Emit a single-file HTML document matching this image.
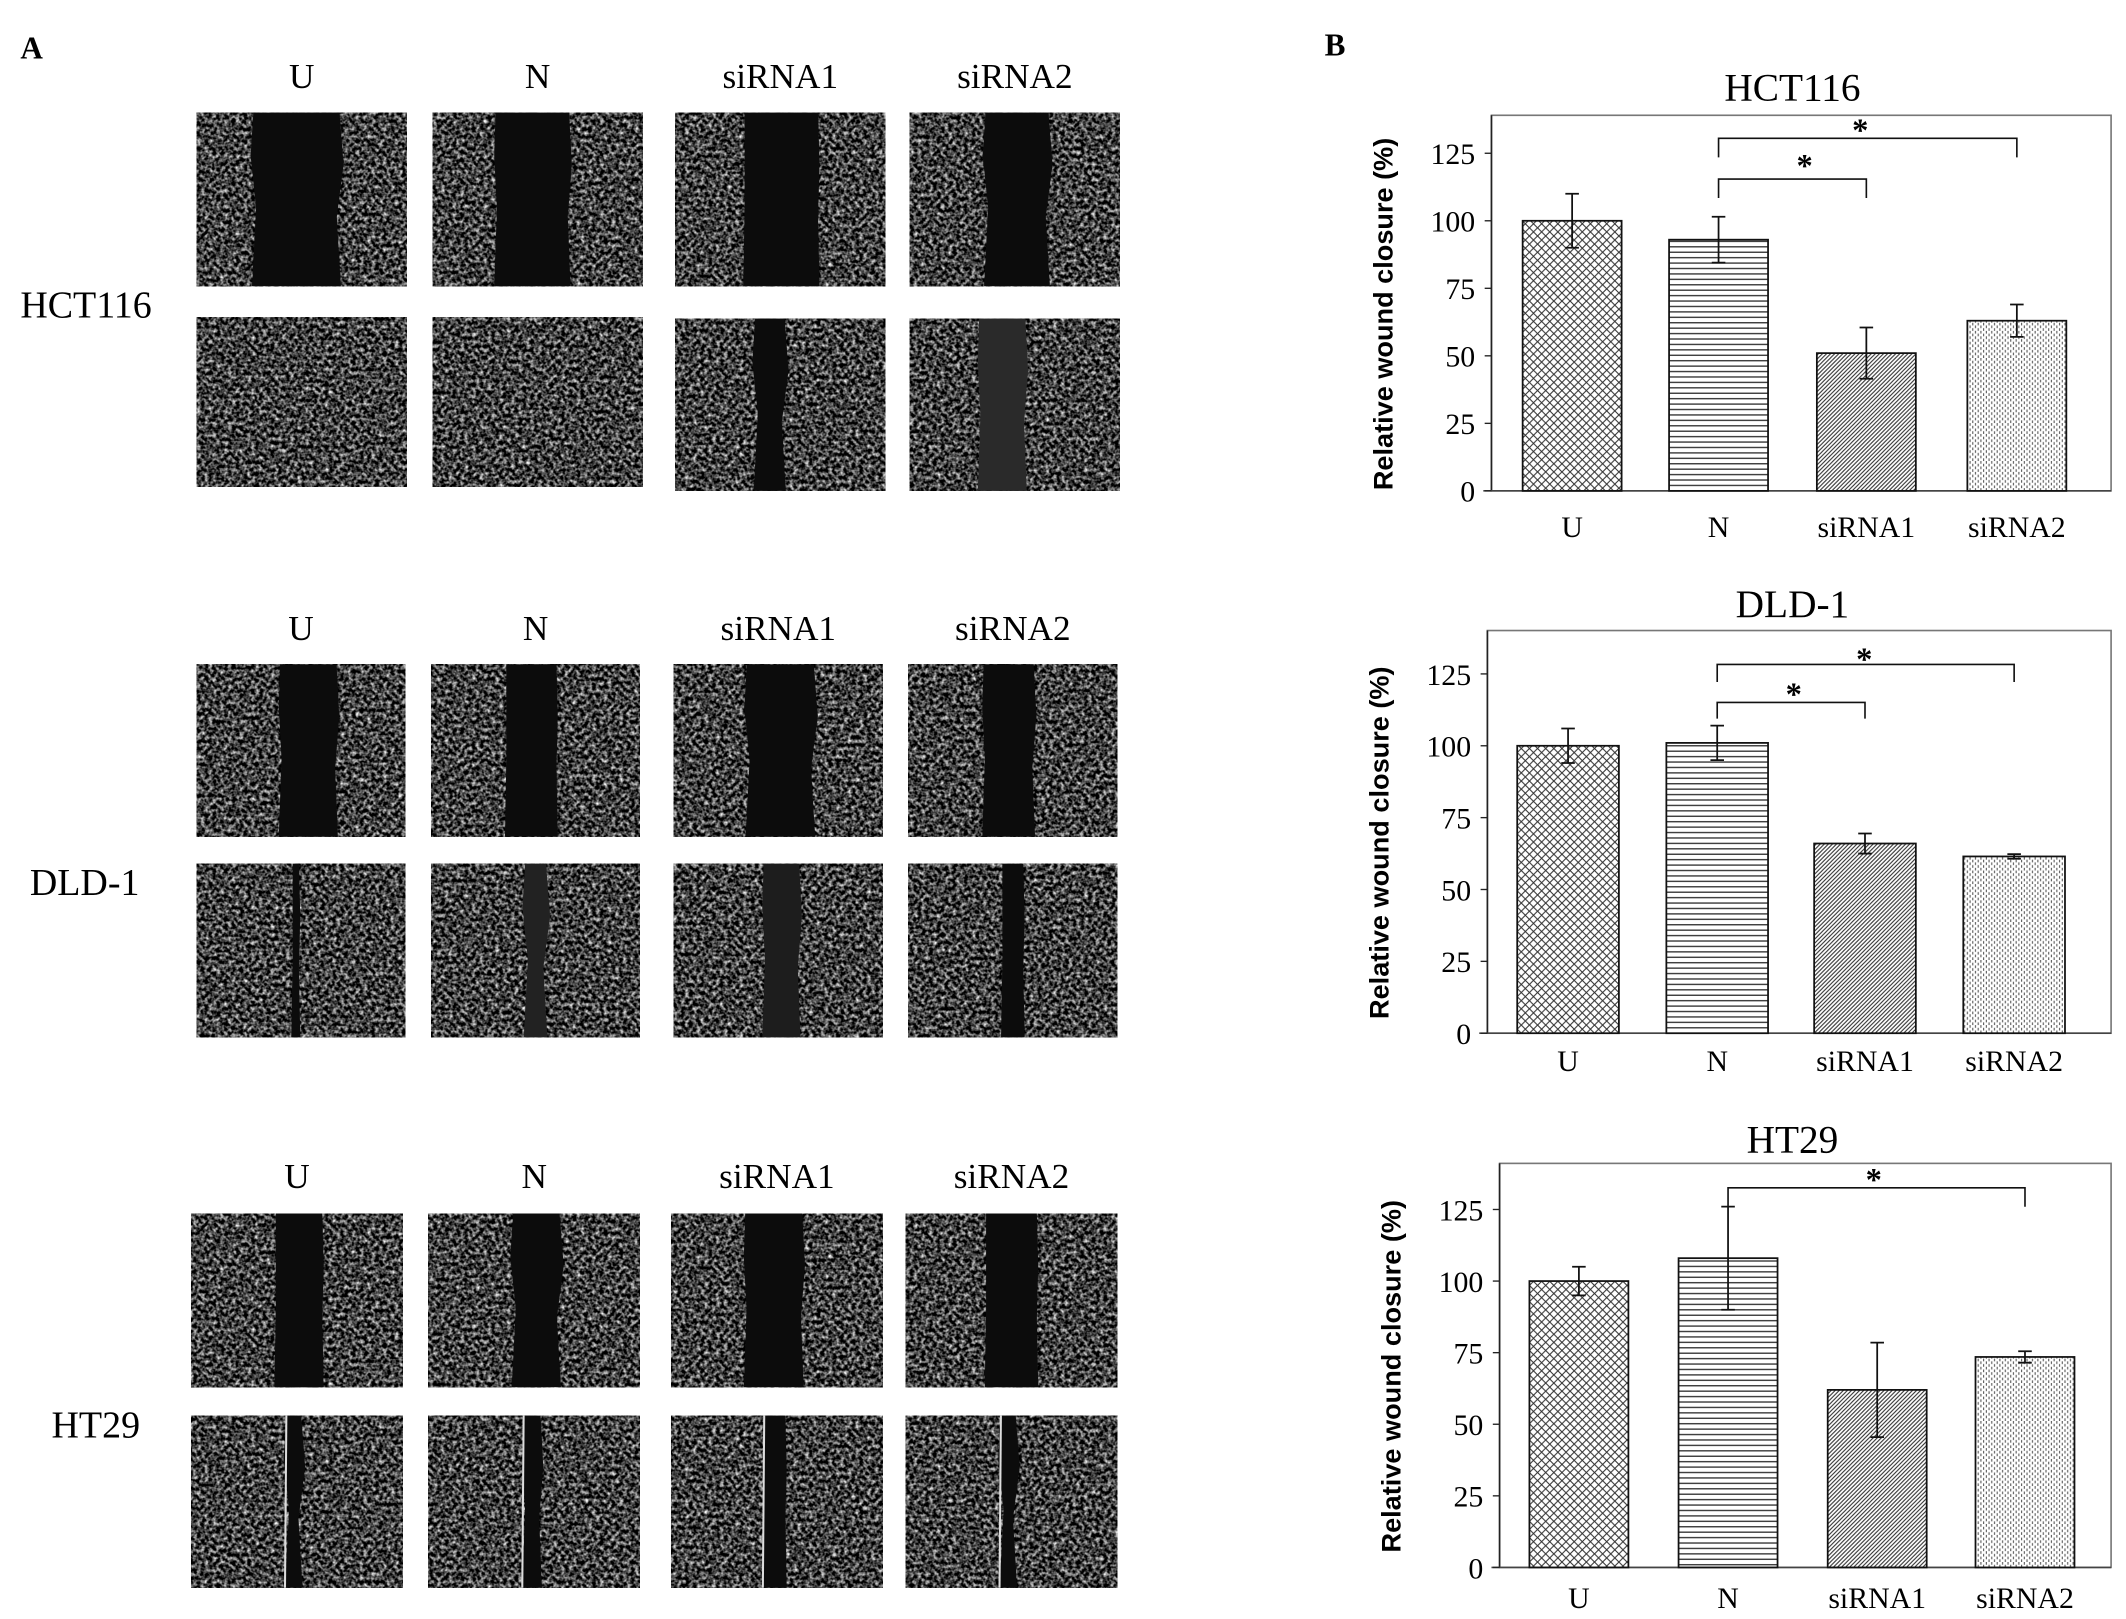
<!DOCTYPE html>
<html><head><meta charset="utf-8">
<style>
html,body{margin:0;padding:0;background:#fff;}
svg{display:block;}
text{font-family:"Liberation Serif",serif;fill:#000;}
.ylab{font-family:"Liberation Sans",sans-serif;font-weight:bold;}
</style></head>
<body>
<svg id="fig" width="2126" height="1619" viewBox="0 0 1568 1194" xmlns="http://www.w3.org/2000/svg">
<defs>
<filter id="tex" x="0" y="0" width="100%" height="100%" color-interpolation-filters="sRGB">
<feTurbulence type="fractalNoise" baseFrequency="0.35" numOctaves="2" seed="7" result="n"/>
<feColorMatrix in="n" type="matrix" values="1.9 0 0 0 -0.7  1.9 0 0 0 -0.7  1.9 0 0 0 -0.7  0 0 0 0 1"/>
</filter>
<pattern id="p-cross" width="6" height="6" patternUnits="userSpaceOnUse">
<rect width="6" height="6" fill="#fff"/>
<path d="M0,0L6,6M6,0L0,6" stroke="#333" stroke-width="0.8"/>
</pattern>
<pattern id="p-horiz" width="4" height="4" patternUnits="userSpaceOnUse">
<rect width="4" height="4" fill="#fff"/>
<path d="M0,2H4" stroke="#333" stroke-width="1"/>
</pattern>
<pattern id="p-diag" width="3" height="3" patternUnits="userSpaceOnUse">
<rect width="3" height="3" fill="#fff"/>
<path d="M0,3L3,0M-1,1L1,-1M2,4L4,2" stroke="#333" stroke-width="0.8"/>
</pattern>
<pattern id="p-dots" width="4" height="4" patternUnits="userSpaceOnUse">
<rect width="4" height="4" fill="#fff"/>
<path d="M1,0V2M3,2V4" stroke="#555" stroke-width="0.8"/>
</pattern>
</defs>
<text x="15" y="43" font-size="23" font-weight="bold">A</text>
<text x="977" y="41" font-size="23" font-weight="bold">B</text>
<g id="panelA"></g>
<g id="panelB"></g>
</svg>
<script>
// ---- Chart data ----
const categories = ["U", "N", "siRNA1", "siRNA2"];
const cellLines = ["HCT116", "DLD-1", "HT29"];
const hct116Values = [100, 93, 51, 63];
const hct116Errors = [10, 8.5, 9.5, 6];
const dld1Values = [100, 101, 66, 61.5];
const dld1Errors = [6, 6, 3.5, 0.8];
const ht29Values = [100, 108, 62, 73.5];
const ht29Errors = [5, 18, 16.5, 2];
const yTicks = [0, 25, 50, 75, 100, 125];
const yMax = 140;

const NS = "http://www.w3.org/2000/svg";
function el(tag, attrs, parent){
  const e = document.createElementNS(NS, tag);
  for (const k in attrs) e.setAttribute(k, attrs[k]);
  if (parent) parent.appendChild(e);
  return e;
}

// ---- Panel A: wound images ----
const A = document.getElementById("panelA");
const blocks = [
  {label:"HCT116", lx:15, ly:234, hy:65, cols:[145,319,498,671], w:155,
   rows:[{y:83,h:128,wounds:[[0.27,0.68],[0.3,0.65],[0.33,0.68],[0.36,0.66]]},
         {y:234,h:125,wounds:[null,null,[0.38,0.52],[0.33,0.55,"#2a2a2a"]], yAlt:[234,234,235,235], hAlt:[125,125,127,127]}]},
  {label:"DLD-1", lx:22, ly:660, hy:472, cols:[145,318,497,670], w:154,
   rows:[{y:490,h:127,wounds:[[0.4,0.67],[0.36,0.6],[0.35,0.67],[0.36,0.6]]},
         {y:637,h:128,wounds:[[0.46,0.49],[0.45,0.55,"#222"],[0.43,0.6,"#1d1d1d"],[0.45,0.55]]}]},
  {label:"HT29", lx:38, ly:1060, hy:876, cols:[141,316,495,668], w:156,
   rows:[{y:895,h:128,wounds:[[0.4,0.62],[0.4,0.62],[0.35,0.62],[0.38,0.62]]},
         {y:1044,h:127,wounds:[[0.45,0.52],[0.45,0.53],[0.44,0.54],[0.45,0.52]]}]}
];
blocks.forEach((b, bi) => {
  const lab = el("text", {x:b.lx, y:b.ly, "font-size":"28"}, A);
  lab.textContent = b.label;
  
  
  categories.forEach((c, ci) => {
    const t = el("text", {x:b.cols[ci] + b.w/2, y:b.hy, "font-size":"26", "text-anchor":"middle"}, A);
    t.textContent = c;
    
    
  });
  b.rows.forEach((r, ri) => {
    b.cols.forEach((x, ci) => {
      const y = r.yAlt ? r.yAlt[ci] : r.y;
      const h = r.hAlt ? r.hAlt[ci] : r.h;
      const g = el("g", {}, A);
      
      
      el("rect", {x:x, y:y, width:b.w, height:h, fill:"#333"}, g);
      el("rect", {x:x, y:y, width:b.w, height:h, filter:"url(#tex)"}, g);
      const wd = r.wounds[ci];
      if (wd) {
        const x1 = x + wd[0]*b.w, x2 = x + wd[1]*b.w;
        const j = (bi+ci+ri)%3;
        const d = `M${x1},${y} L${x2},${y} L${x2+3-j},${y+h*0.3} L${x2-2+j},${y+h*0.6} L${x2+1},${y+h} L${x1-1},${y+h} L${x1+2-j},${y+h*0.55} L${x1-2+j},${y+h*0.25} Z`;
        el("path", {d:d, fill:wd[2]||"#0c0c0c"}, g);
        if (ri===1 && bi===2) {
          el("path", {d:`M${x1},${y} L${x1-1},${y+h}`, stroke:"#ddd", "stroke-width":"1.5", fill:"none"}, g);
        }
      }
    });
  });
});

// ---- Panel B: bar charts ----
const B = document.getElementById("panelB");
const charts = [
  {title:"HCT116", values:hct116Values, errors:hct116Errors, x0:1100, x1:1557, top:85, y0:362, yTop125:113, titleY:74, xLabY:396, ylabX:1027,
   barX:[1123,1231,1340,1451], bw:73,
   brackets:[{from:1,to:2,y:132,drop:14,sx:1331,sy:130},{from:1,to:3,y:102,drop:14,sx:1372,sy:104}]},
  {title:"DLD-1", values:dld1Values, errors:dld1Errors, x0:1097, x1:1557, top:465, y0:762, yTop125:497, titleY:455, xLabY:790, ylabX:1024,
   barX:[1119,1229,1338,1448], bw:75,
   brackets:[{from:1,to:2,y:518,drop:12,sx:1323,sy:520},{from:1,to:3,y:490,drop:13,sx:1375,sy:494}]},
  {title:"HT29", values:ht29Values, errors:ht29Errors, x0:1106, x1:1557, top:858, y0:1156, yTop125:892, titleY:850, xLabY:1186, ylabX:1033,
   barX:[1128,1238,1348,1457], bw:73,
   brackets:[{from:1,to:3,y:876,drop:14,sx:1382,sy:878}]}
];
const fills = ["url(#p-cross)","url(#p-horiz)","url(#p-diag)","url(#p-dots)"];
charts.forEach((ch) => {
  const yScale = v => ch.y0 - v * (ch.y0 - ch.yTop125) / 125;
  const g = el("g", {}, B);
  
  
  const tt = el("text", {x:1322, y:ch.titleY, "font-size":"29", "text-anchor":"middle"}, g);
  tt.textContent = ch.title;
  
  
  el("rect", {x:ch.x0, y:ch.top, width:ch.x1-ch.x0, height:ch.y0-ch.top, fill:"none", stroke:"#777", "stroke-width":"1.2"}, g);
  el("line", {x1:ch.x0, y1:ch.top, x2:ch.x0, y2:ch.y0, stroke:"#222", "stroke-width":"1.2"}, g);
  el("line", {x1:ch.x0-6, y1:ch.y0, x2:ch.x1, y2:ch.y0, stroke:"#444", "stroke-width":"1.2"}, g);
  yTicks.forEach(v => {
    const y = yScale(v);
    el("line", {x1:ch.x0-5, y1:y, x2:ch.x0, y2:y, stroke:"#222", "stroke-width":"1"}, g);
    const t = el("text", {x:ch.x0-12, y:y+8, "font-size":"22", "text-anchor":"end"}, g);
    t.textContent = v;
    
    
  });
  const yl = el("text", {x:0, y:0, "font-size":"20", "text-anchor":"middle", "class":"ylab",
    transform:`translate(${ch.ylabX},${(ch.top+ch.y0)/2+8}) rotate(-90)`}, g);
  yl.textContent = "Relative wound closure (%)";
  
  
  ch.values.forEach((v, i) => {
    const x = ch.barX[i], cx = x + ch.bw/2;
    const bar = el("rect", {x:x, y:yScale(v), width:ch.bw, height:ch.y0-yScale(v), fill:fills[i], stroke:"#111", "stroke-width":"1.3"}, g);
    
    
    const e = ch.errors[i];
    const eb = el("path", {d:`M${cx},${yScale(v+e)}V${yScale(v-e)}M${cx-5},${yScale(v+e)}H${cx+5}M${cx-5},${yScale(v-e)}H${cx+5}`, stroke:"#111", "stroke-width":"1.3", fill:"none"}, g);
    
    
    const xl = el("text", {x:cx, y:ch.xLabY, "font-size":"22", "text-anchor":"middle"}, g);
    xl.textContent = categories[i];
    
    
  });
  ch.brackets.forEach(br => {
    const xa = ch.barX[br.from] + ch.bw/2, xb = ch.barX[br.to] + ch.bw/2;
    const p = el("path", {d:`M${xa},${br.y+br.drop}V${br.y}H${xb}V${br.y+br.drop}`, stroke:"#111", "stroke-width":"1.2", fill:"none"}, g);
    
    
    const s = el("text", {x:br.sx, y:br.sy, "font-size":"24", "font-weight":"bold", "text-anchor":"middle"}, g);
    s.textContent = "*";
    
    
  });
});
</script>
</body></html>
